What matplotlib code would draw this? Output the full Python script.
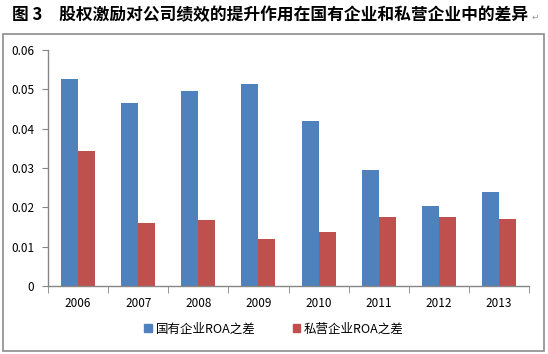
"""ROA difference chart: state-owned vs private firms, 2006-2013."""

import numpy as np
import matplotlib
matplotlib.use("Agg")
import matplotlib.pyplot as plt
from matplotlib.patches import Rectangle, Patch

plt.rcParams["font.family"] = ["Noto Sans CJK SC", "DejaVu Sans"]

years = ["2006", "2007", "2008", "2009", "2010", "2011", "2012", "2013"]
state_roa = [0.0527, 0.0464, 0.0496, 0.0514, 0.0420, 0.0295, 0.0204, 0.0239]
private_roa = [0.0344, 0.0160, 0.0168, 0.0120, 0.0137, 0.0176, 0.0176, 0.0170]
series_names = ["国有企业ROA之差", "私营企业ROA之差"]
title = "图 3\u3000股权激励对公司绩效的提升作用在国有企业和私营企业中的差异"

BLUE = "#4F81BD"
RED = "#C0504D"
GRAY = "#868686"

fig = plt.figure(figsize=(5.48, 3.54), dpi=100)

# chart frame
fig.patches.append(Rectangle((3 / 548, 1 - 351 / 354), 541 / 548, 317 / 354,
                             transform=fig.transFigure, fill=False,
                             edgecolor="#8C8C8C", linewidth=1.2))

fig.text(12 / 548, 1 - 15 / 354, title, fontsize=12.05, fontweight="bold",
         va="center", ha="left")
fig.text(532 / 548, 1 - 17 / 354, "\u21b5", fontsize=6.5, color="#999999",
         va="center", ha="left", family=["DejaVu Sans"])

ax = fig.add_axes([48 / 548, 1 - 286 / 354, 481 / 548, 236 / 354])

x = np.arange(len(years))
w = 0.283
ax.bar(x - w / 2, state_roa, w, color=BLUE)
ax.bar(x + w / 2, private_roa, w, color=RED)

ax.set_xlim(-0.5, len(years) - 0.5)
ax.set_ylim(0, 0.06)
ax.set_yticks([0, 0.01, 0.02, 0.03, 0.04, 0.05, 0.06])
ax.set_yticklabels(["0", "0.01", "0.02", "0.03", "0.04", "0.05", "0.06"])
ax.set_xticks(x)
ax.set_xticklabels(years)
ax.set_xticks(np.arange(-0.5, len(years)), minor=True)

for side in ["top", "right"]:
    ax.spines[side].set_visible(False)
for side in ["left", "bottom"]:
    ax.spines[side].set_color(GRAY)
    ax.spines[side].set_linewidth(1.0)

ax.tick_params(axis="x", which="major", length=0, pad=8, labelsize=8.5)
ax.tick_params(axis="x", which="minor", length=5, color=GRAY, direction="out")
ax.tick_params(axis="y", length=4, color=GRAY, direction="out", pad=6,
               labelsize=8.5)

handles = [Patch(color=BLUE, label=series_names[0]),
           Patch(color=RED, label=series_names[1])]
fig.legend(handles=handles, loc="center", bbox_to_anchor=(0.5, 1 - 329 / 354),
           ncol=2, frameon=False, fontsize=9, handlelength=0.6,
           handleheight=0.6, handletextpad=0.3, columnspacing=3.0)

fig.savefig("out.png", dpi=100)
